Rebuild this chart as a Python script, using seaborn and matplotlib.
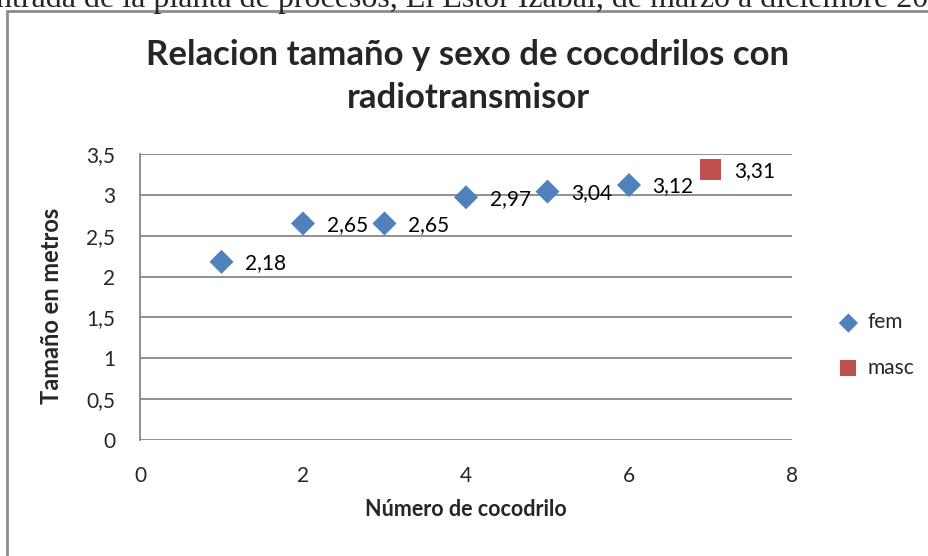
import matplotlib
matplotlib.use("Agg")
import matplotlib.pyplot as plt
import matplotlib.patches as mpatches
from matplotlib.ticker import FuncFormatter, MultipleLocator
import seaborn as sns
import pandas as pd

# data
numero = [1, 2, 3, 4, 5, 6, 7]
tamano = [2.18, 2.65, 2.65, 2.97, 3.04, 3.12, 3.31]
sexo = ["fem", "fem", "fem", "fem", "fem", "fem", "masc"]

df = pd.DataFrame({"numero": numero, "tamano": tamano, "sexo": sexo})

sns.set_theme(style="white")
plt.rcParams["font.family"] = ["Lato", "DejaVu Sans"]

W, H = 929, 556
fig = plt.figure(figsize=(W / 100, H / 100), dpi=100)
ax = fig.add_axes([140 / W, 1 - 440 / H, 652 / W, 286 / H])

colors = {"fem": "#4F81BD", "masc": "#C0504D"}
markers = {"fem": "D", "masc": "s"}
sizes = {"fem": 150, "masc": 210}
for s in ["fem", "masc"]:
    sub = df[df["sexo"] == s]
    sns.scatterplot(data=sub, x="numero", y="tamano", color=colors[s],
                    marker=markers[s], s=sizes[s], edgecolor="none",
                    ax=ax, label=s, zorder=3)

for x, y in zip(df["numero"], df["tamano"]):
    ax.annotate(f"{y:.2f}".replace(".", ","), (x, y), xytext=(17, -1),
                textcoords="offset points", va="center", ha="left",
                fontsize=15, color="black", zorder=4)

ax.set_xlim(0, 8)
ax.set_ylim(0, 3.5)
ax.xaxis.set_major_locator(MultipleLocator(2))
ax.yaxis.set_major_locator(MultipleLocator(0.5))
fmt = FuncFormatter(lambda v, p: f"{v:g}".replace(".", ","))
ax.xaxis.set_major_formatter(fmt)
ax.yaxis.set_major_formatter(fmt)
ax.tick_params(axis="both", length=0, labelsize=15)
ax.tick_params(axis="x", pad=19)
ax.tick_params(axis="y", pad=18)
ax.yaxis.grid(True, color="#878787", linewidth=1.3)
ax.xaxis.grid(False)
for side in ["top", "right", "bottom"]:
    ax.spines[side].set_visible(False)
ax.spines["left"].set_color("#878787")
ax.spines["left"].set_linewidth(1.3)

ax.set_xlabel("Número de cocodrilo", fontsize=15.5, fontweight="bold")
ax.set_ylabel("Tamaño en metros", fontsize=17, fontweight="bold")
ax.xaxis.set_label_coords(0.5, (440 - 510) / 286)
ax.xaxis.label.set_verticalalignment("center")
ax.yaxis.set_label_coords((52 - 140) / 652, (440 - 306) / 286)
ax.yaxis.label.set_verticalalignment("center")

fig.text(468 / W, 1 - 65 / H, "Relacion tamaño y sexo de cocodrilos con",
         ha="center", va="baseline", fontsize=25, fontweight="bold")
fig.text(468 / W, 1 - 108 / H, "radiotransmisor",
         ha="center", va="baseline", fontsize=25, fontweight="bold")

ax.legend(loc="center left", bbox_to_anchor=(838 / W, 1 - 345 / H),
          bbox_transform=fig.transFigure, frameon=False, fontsize=15,
          handlelength=1.0, handletextpad=0.4, labelspacing=1.2,
          borderpad=0, borderaxespad=0, markerscale=0.8)

# chart border and the clipped caption of the document page above it
fig.patches.append(mpatches.Rectangle((7 / W, -0.1), 1.1, 1 - 11 / H + 0.1,
                                      transform=fig.transFigure, fill=False,
                                      edgecolor="#8c8c8c", linewidth=2))
fig.text(-0.004, 1 - 7 / H,
         "ntrada de la planta de procesos, El Estor Izabal, de marzo a diciembre 2009",
         family="Liberation Serif", fontsize=23, ha="left", va="baseline")

fig.savefig("out.png", dpi=100)
